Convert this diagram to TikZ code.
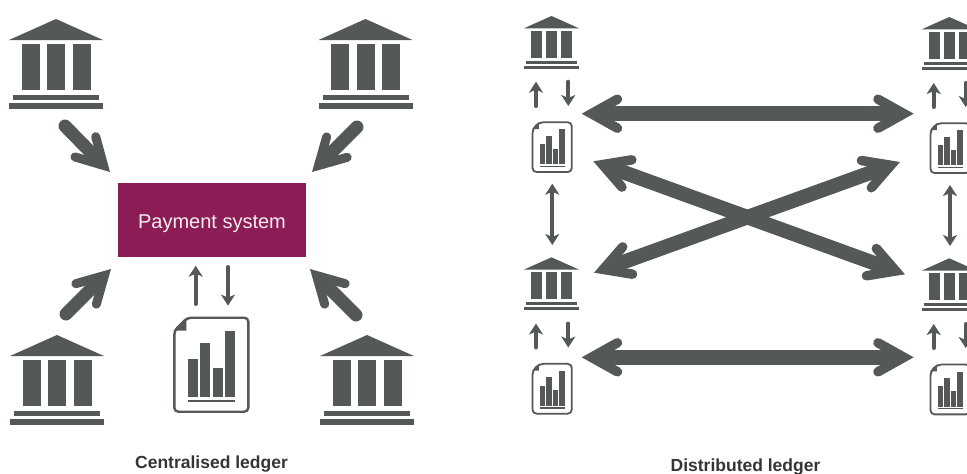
\documentclass[tikz,border=0pt]{standalone}
\usepackage{fontspec}
\setmainfont{Liberation Sans}
\usetikzlibrary{arrows.meta}
\definecolor{icon}{HTML}{555858}
\definecolor{plum}{HTML}{8C1C56}
\definecolor{caption}{HTML}{333638}
\tikzset{
  pics/bank/.style={code={
    \fill[icon] (-47,21) -- (0,0) -- (47,21) -- cycle;
    \fill[icon] (-34.5,25) rectangle (-16.5,71);
    \fill[icon] (-9,25) rectangle (9,71);
    \fill[icon] (16.5,25) rectangle (34.5,71);
    \fill[icon] (-43,75.5) rectangle (43,81);
    \fill[icon] (-47,84) rectangle (47,90);
  }},
  pics/doc/.style={code={
    \draw[icon,rounded corners=4] (1,14) -- (1,95) -- (75,95) -- (75,1) -- (14,1) -- cycle;
    \fill[icon] (0,14) -- (13,1) -- (13,14) -- cycle;
    \fill[icon] (14.4,42) rectangle (24.4,80.6);
    \fill[icon] (26.7,26.7) rectangle (37,80.6);
    \fill[icon] (39.4,51) rectangle (49.4,80.6);
    \fill[icon] (51.7,14.6) rectangle (61.7,80.6);
    \fill[icon] (14.4,83.3) rectangle (61.7,85.6);
  }}
}
\begin{document}
\begin{tikzpicture}[x=1pt, y=-1pt,
  smallarrow/.style = {icon, line width=4pt, line cap=round, >={Stealth[length=11pt,width=14pt,inset=3pt]}},
  midarrow/.style = {icon, line width=13pt, line cap=round, >={Straight Barb[length=26pt,width=29pt,line width=9pt,line cap=round,line join=miter]}},
  bigarrow/.style = {icon, line width=14.5pt, line cap=butt, >={Straight Barb[length=26pt,width=29pt,line width=9.5pt,line cap=round,line join=miter]}},
  label/.style = {font=\fontsize{17.5}{19}\selectfont\bfseries, text=caption, inner sep=0pt}]
\useasboundingbox (0,0) rectangle (967,474);
\node[fill=plum, minimum width=188pt, minimum height=74pt, inner sep=0pt, text=white!92!plum, text height=18.4pt, text depth=2pt, font=\fontsize{20}{22}\selectfont] (payment) at (212,220) {Payment system};
\node[label] (central) at (211.5,464) {Centralised ledger};
\node[label] (distributed) at (745.5,467) {Distributed ledger};
% centralised ledger
\pic (bankA) at (56,19) {bank};
\pic (bankB) at (365.5,19) {bank};
\pic (bankC) at (57,335) {bank};
\pic (bankD) at (367,335) {bank};
\pic[line width=2.4pt] (docCentral) at (173.3,316.7) {doc};
\coordinate (a1) at (65,126);
\coordinate (a2) at (110,172);
\coordinate (b1) at (357,127);
\coordinate (b2) at (312,172);
\coordinate (c1) at (66,314);
\coordinate (c2) at (111,269);
\coordinate (d1) at (356,315);
\coordinate (d2) at (310,269);
\coordinate (up1) at (195.7,304);
\coordinate (up2) at (195.7,265.7);
\coordinate (down1) at (228,267);
\coordinate (down2) at (228,305.6);
\draw[midarrow,->] (a1) -- (a2);
\draw[midarrow,->] (b1) -- (b2);
\draw[midarrow,->] (c1) -- (c2);
\draw[midarrow,->] (d1) -- (d2);
\draw[smallarrow,->] (up1) -- (up2);
\draw[smallarrow,->] (down1) -- (down2);
% distributed ledger
\pic[scale=.59] (bankE) at (551.5,16) {bank};
\pic[scale=.59] (bankF) at (949.3,17) {bank};
\pic[scale=.59] (bankG) at (551.5,257.3) {bank};
\pic[scale=.59] (bankH) at (949.3,258.3) {bank};
\pic[scale=.53,line width=1.8pt] (docE) at (532,121.7) {doc};
\pic[scale=.53,line width=1.8pt] (docF) at (930,122.7) {doc};
\pic[scale=.53,line width=1.8pt] (docG) at (532,363.3) {doc};
\pic[scale=.53,line width=1.8pt] (docH) at (930,364) {doc};
\coordinate (top1) at (581.7,113.7);
\coordinate (top2) at (913.7,113.7);
\coordinate (low1) at (581.7,357.3);
\coordinate (low2) at (913.7,357.3);
\coordinate (crossA1) at (593.3,161.3);
\coordinate (crossA2) at (905,274.3);
\coordinate (crossB1) at (594,272.7);
\coordinate (crossB2) at (900,162);
\coordinate (left1) at (552.3,183.7);
\coordinate (left2) at (552.3,245);
\coordinate (right1) at (950,185);
\coordinate (right2) at (950,246);
\coordinate (eu1) at (536,106);
\coordinate (eu2) at (536,81.7);
\coordinate (ed1) at (568.3,81.7);
\coordinate (ed2) at (568.3,106);
\coordinate (fu1) at (933.7,107);
\coordinate (fu2) at (933.7,83);
\coordinate (fd1) at (965.7,83);
\coordinate (fd2) at (965.7,107);
\coordinate (gu1) at (536,347.5);
\coordinate (gu2) at (536,323.5);
\coordinate (gd1) at (568.3,323.5);
\coordinate (gd2) at (568.3,347.5);
\coordinate (hu1) at (933.7,348);
\coordinate (hu2) at (933.7,324);
\coordinate (hd1) at (965.7,324);
\coordinate (hd2) at (965.7,348);
\draw[bigarrow,<->] (top1) -- (top2);
\draw[bigarrow,<->] (low1) -- (low2);
\draw[bigarrow,<->] (crossA1) -- (crossA2);
\draw[bigarrow,<->] (crossB1) -- (crossB2);
\draw[smallarrow,<->] (left1) -- (left2);
\draw[smallarrow,<->] (right1) -- (right2);
\draw[smallarrow,->] (eu1) -- (eu2);
\draw[smallarrow,->] (ed1) -- (ed2);
\draw[smallarrow,->] (fu1) -- (fu2);
\draw[smallarrow,->] (fd1) -- (fd2);
\draw[smallarrow,->] (gu1) -- (gu2);
\draw[smallarrow,->] (gd1) -- (gd2);
\draw[smallarrow,->] (hu1) -- (hu2);
\draw[smallarrow,->] (hd1) -- (hd2);
\end{tikzpicture}
\end{document}
